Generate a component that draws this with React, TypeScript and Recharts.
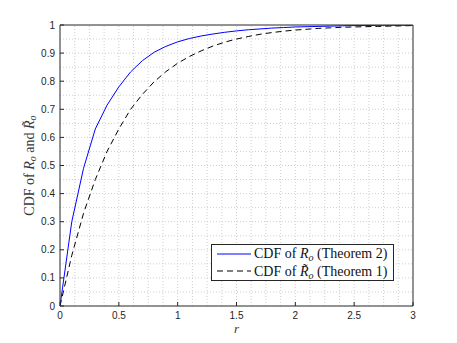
import React from "react";
import {
  LineChart,
  Line,
  XAxis,
  YAxis,
  ReferenceLine,
  Legend,
} from "recharts";

const rValues = [
  0, 0.1, 0.2, 0.3, 0.4, 0.5, 0.6, 0.7, 0.8, 0.9, 1.0, 1.1, 1.2, 1.3, 1.4, 1.5,
  1.6, 1.7, 1.8, 1.9, 2.0, 2.1, 2.2, 2.3, 2.4, 2.5, 2.6, 2.7, 2.8, 2.9, 3.0,
];
const cdfTheorem2 = [
  0, 0.3, 0.49, 0.63, 0.715, 0.78, 0.833, 0.873, 0.903, 0.924, 0.94, 0.952,
  0.961, 0.968, 0.974, 0.979, 0.983, 0.986, 0.989, 0.991, 0.993, 0.994, 0.995,
  0.996, 0.997, 0.998, 0.998, 0.999, 0.999, 0.999, 1.0,
];
const cdfTheorem1 = [
  0, 0.18, 0.33, 0.45, 0.55, 0.63, 0.7, 0.753, 0.798, 0.834, 0.864, 0.888,
  0.908, 0.925, 0.939, 0.95, 0.959, 0.967, 0.973, 0.978, 0.982, 0.985, 0.988,
  0.99, 0.992, 0.993, 0.994, 0.995, 0.996, 0.997, 0.998,
];
const xTicks = [0, 0.5, 1, 1.5, 2, 2.5, 3];
const yTicks = [0, 0.1, 0.2, 0.3, 0.4, 0.5, 0.6, 0.7, 0.8, 0.9, 1];
const xGrid = [
  0.125, 0.25, 0.375, 0.5, 0.625, 0.75, 0.875, 1, 1.125, 1.25, 1.375, 1.5,
  1.625, 1.75, 1.875, 2, 2.125, 2.25, 2.375, 2.5, 2.625, 2.75, 2.875,
];
const yGrid = [
  0.05, 0.1, 0.15, 0.2, 0.25, 0.3, 0.35, 0.4, 0.45, 0.5, 0.55, 0.6, 0.65, 0.7,
  0.75, 0.8, 0.85, 0.9, 0.95,
];

const data = rValues.map((r, i) => ({
  r,
  t2: cdfTheorem2[i],
  t1: cdfTheorem1[i],
}));

const AXIS = "#262626";
const SERIF = "'Liberation Serif', 'DejaVu Serif', serif";
const SANS = "'Liberation Sans', Arial, sans-serif";

const fmt = (v: number) => String(Math.round(v * 10) / 10);

const YLabel = (props: any) => {
  const vb = props.viewBox || { x: 0, y: 25, width: 60, height: 281 };
  const cx = vb.x + 29;
  const cy = vb.y + vb.height / 2;
  return (
    <text
      x={cx}
      y={cy}
      transform={`rotate(-90, ${cx}, ${cy})`}
      textAnchor="middle"
      dominantBaseline="central"
      fontFamily={SERIF}
      fontSize={14}
      fill="#3a3a3a"
    >
      <tspan>CDF of </tspan>
      <tspan fontStyle="italic">R</tspan>
      <tspan fontStyle="italic" fontSize={10} dy={3}>o</tspan>
      <tspan dy={-3}> and </tspan>
      <tspan fontStyle="italic">R&#771;</tspan>
      <tspan fontStyle="italic" fontSize={10} dy={3}>o</tspan>
    </text>
  );
};

const XLabel = (props: any) => {
  const vb = props.viewBox || { x: 60, y: 306, width: 353, height: 37 };
  return (
    <text
      x={vb.x + vb.width / 2}
      y={vb.y + 27}
      textAnchor="middle"
      fontFamily={SERIF}
      fontStyle="italic"
      fontSize={13}
      fill="#3a3a3a"
    >
      r
    </text>
  );
};

const LegendBox = () => {
  const row = (dash: string | undefined, color: string, tilde: boolean, thm: string) => (
    <div style={{ display: "flex", alignItems: "center", height: 17.5 }}>
      <svg width={36} height={10} style={{ marginLeft: 5, marginRight: 1, flex: "none" }}>
        <line x1={0} y1={5} x2={34} y2={5} stroke={color} strokeWidth={1} strokeDasharray={dash} />
      </svg>
      <span style={{ fontFamily: SERIF, fontSize: 14, color: "#111", whiteSpace: "nowrap", lineHeight: "17px" }}>
        CDF of <i>{tilde ? "R\u0303" : "R"}</i>
        <sub style={{ fontSize: 10, fontStyle: "italic", verticalAlign: "-3px", lineHeight: 0 }}>o</sub> (Theorem {thm})
      </span>
    </div>
  );
  return (
    <div
      style={{
        width: 181,
        height: 35,
        border: `1px solid ${AXIS}`,
        background: "#fff",
        boxSizing: "content-box",
        overflow: "hidden",
      }}
    >
      {row(undefined, "#0000ff", false, "2")}
      {row("6 4", "#000", true, "1")}
    </div>
  );
};

export default function App() {
  return (
    <div style={{ position: "absolute", left: 0, top: 0, width: 457, height: 343, background: "#fff" }}>
      <LineChart
        width={457}
        height={343}
        data={data}
        margin={{ top: 0, right: 0, bottom: 0, left: 0 }}
      >
        <XAxis
          xAxisId="main"
          dataKey="r"
          type="number"
          domain={[0, 3]}
          ticks={xTicks}
          tickFormatter={fmt}
          orientation="bottom"
          height={37}
          stroke={AXIS}
          tickSize={-4}
          tickMargin={10}
          tick={{ fill: AXIS, fontSize: 10, fontFamily: SANS }}
          allowDataOverflow
          label={<XLabel />}
        />
        <XAxis
          xAxisId="top"
          dataKey="r"
          type="number"
          domain={[0, 3]}
          ticks={xTicks}
          orientation="top"
          height={25}
          stroke={AXIS}
          tickSize={-4}
          tick={false}
          allowDataOverflow
        />
        <YAxis
          yAxisId="main"
          type="number"
          domain={[0, 1]}
          ticks={yTicks}
          tickFormatter={fmt}
          orientation="left"
          width={60}
          stroke={AXIS}
          tickSize={-4}
          tickMargin={9}
          tick={{ fill: AXIS, fontSize: 10, fontFamily: SANS }}
          allowDataOverflow
          label={<YLabel />}
        />
        <YAxis
          yAxisId="right"
          type="number"
          domain={[0, 1]}
          ticks={yTicks}
          orientation="right"
          width={44}
          stroke={AXIS}
          tickSize={-4}
          tick={false}
          allowDataOverflow
        />
        {xGrid.map((v) => (
          <ReferenceLine
            key={"gx" + v}
            x={v}
            xAxisId="main"
            yAxisId="main"
            stroke="#cfcfcf"
            strokeDasharray="1 2"
            strokeWidth={1}
          />
        ))}
        {yGrid.map((v) => (
          <ReferenceLine
            key={"gy" + v}
            y={v}
            xAxisId="main"
            yAxisId="main"
            stroke="#cfcfcf"
            strokeDasharray="1 2"
            strokeWidth={1}
          />
        ))}
        <Line
          xAxisId="main"
          yAxisId="main"
          type="linear"
          dataKey="t1"
          stroke="#000"
          strokeWidth={1}
          strokeDasharray="6 4"
          dot={false}
          isAnimationActive={false}
        />
        <Line
          xAxisId="main"
          yAxisId="main"
          type="linear"
          dataKey="t2"
          stroke="#0000ff"
          strokeWidth={1}
          dot={false}
          isAnimationActive={false}
        />
        <Legend
          verticalAlign="middle"
          align="center"
          layout="horizontal"
          content={<LegendBox />}
          wrapperStyle={{ position: "absolute", left: 211, top: 244, width: 183, height: 37, bottom: "auto", right: "auto" }}
        />
      </LineChart>
    </div>
  );
}
